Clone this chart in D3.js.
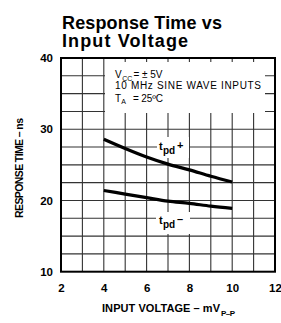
<!DOCTYPE html>
<html><head><meta charset="utf-8">
<script src="https://cdn.jsdelivr.net/npm/d3@7"></script>
<style>
body{margin:0;background:#fff;}
text{font-family:"Liberation Sans",Arial,sans-serif;fill:#000;}
</style></head>
<body><svg id="c" width="281" height="323"></svg>
<script>
const inputVoltage = [4,5,6,7,8,9,10];
const tpdPlus  = [28.6,27.3,26.1,25.1,24.3,23.4,22.6];
const tpdMinus = [21.4,20.9,20.4,19.9,19.6,19.2,18.9];
const xTicks = [2,4,6,8,10,12];
const yTicks = [10,20,30,40];
const xGrid = [3,4,5,6,7,8,9,10,11];
const yGrid = [12.5,15,17.5,20,22.5,25,27.5,30,32.5,35,37.5];

const svg = d3.select("#c");
const x = d3.scaleLinear([2,12],[61,275]);
const y = d3.scaleLinear([10,40],[271.7,58]);

// title
svg.append("text").attr("x",62).attr("y",28.5).attr("font-size",18).attr("font-weight","bold").attr("textLength",160).text("Response Time vs");
svg.append("text").attr("x",62).attr("y",47).attr("font-size",18).attr("font-weight","bold").attr("textLength",126).text("Input Voltage");

// grid
const g = svg.append("g").attr("stroke","#333").attr("stroke-width",1.1);
g.selectAll(".v").data(xGrid).join("line").attr("x1",d=>x(d)).attr("x2",d=>x(d)).attr("y1",y(10)).attr("y2",y(40));
g.selectAll(".h").data(yGrid).join("line").attr("y1",d=>y(d)).attr("y2",d=>y(d)).attr("x1",x(2)).attr("x2",x(12));

// annotation box background
svg.append("rect").attr("x",105).attr("y",62).attr("width",160).attr("height",51).attr("fill","#fff");
const ann = svg.append("g").attr("font-size",10);
ann.append("text").attr("x",115).attr("y",77.5).text("V");
ann.append("text").attr("x",122.3).attr("y",80.5).attr("font-size",7).text("CC");
ann.append("text").attr("x",133.5).attr("y",77.5).attr("textLength",29).text("= ± 5V");
ann.append("text").attr("x",115).attr("y",89).attr("textLength",146).text("10 MHz  SINE  WAVE  INPUTS");
ann.append("text").attr("x",115).attr("y",101.5).text("T");
ann.append("text").attr("x",121.3).attr("y",104).attr("font-size",7).text("A");
ann.append("text").attr("x",133).attr("y",101.5).attr("textLength",30).text("= 25ºC");

// curve label backgrounds
svg.append("rect").attr("x",157).attr("y",137).attr("width",32).attr("height",21).attr("fill","#fff");
svg.append("rect").attr("x",156).attr("y",212).attr("width",34).attr("height",22).attr("fill","#fff");

// border
svg.append("rect").attr("x",x(2)).attr("y",y(40)).attr("width",x(12)-x(2)).attr("height",y(10)-y(40))
  .attr("fill","none").attr("stroke","#000").attr("stroke-width",2);

// curves
const line = d3.line().x((d,i)=>x(inputVoltage[i])).y(d=>y(d)).curve(d3.curveMonotoneX);
[tpdPlus,tpdMinus].forEach(s=>{
  svg.append("path").attr("d",line(s)).attr("fill","none").attr("stroke","#000").attr("stroke-width",3.2);
});

// curve labels
function lbl(xx,yy,sign){
  svg.append("text").attr("x",xx).attr("y",yy).attr("font-size",11).attr("font-weight","bold").text("t");
  svg.append("text").attr("x",xx+4).attr("y",yy+4).attr("font-size",10).attr("font-weight","bold").text("pd");
  svg.append("text").attr("x",xx+18).attr("y",yy-1).attr("font-size",11).attr("font-weight","bold").text(sign);
}
lbl(159,149.5,"+");
lbl(159,224,"–");

// axes
const ax = svg.append("g").attr("transform",`translate(0,${y(10)})`)
  .call(d3.axisBottom(x).tickValues(xTicks).tickSize(0).tickPadding(12).tickFormat(d3.format("d")));
ax.select(".domain").remove();
ax.selectAll("text").attr("font-size",11.5).attr("font-weight","bold").attr("font-family","Liberation Sans, Arial, sans-serif");
const ay = svg.append("g").attr("transform",`translate(${x(2)},0)`)
  .call(d3.axisLeft(y).tickValues(yTicks).tickSize(0).tickPadding(8).tickFormat(d3.format("d")));
ay.select(".domain").remove();
ay.selectAll("text").attr("font-size",11.5).attr("font-weight","bold").attr("font-family","Liberation Sans, Arial, sans-serif");

// axis titles
svg.append("text").attr("transform","translate(23,168) rotate(-90)").attr("text-anchor","middle")
  .attr("font-size",10.5).attr("font-weight","bold").attr("textLength",100).text("RESPONSE TIME – ns");
svg.append("text").attr("x",102).attr("y",312).attr("font-size",11).attr("font-weight","bold").attr("textLength",118).text("INPUT VOLTAGE – mV");
svg.append("text").attr("x",221).attr("y",315.5).attr("font-size",8).attr("font-weight","bold").attr("textLength",14).text("P–P");
</script></body></html>
